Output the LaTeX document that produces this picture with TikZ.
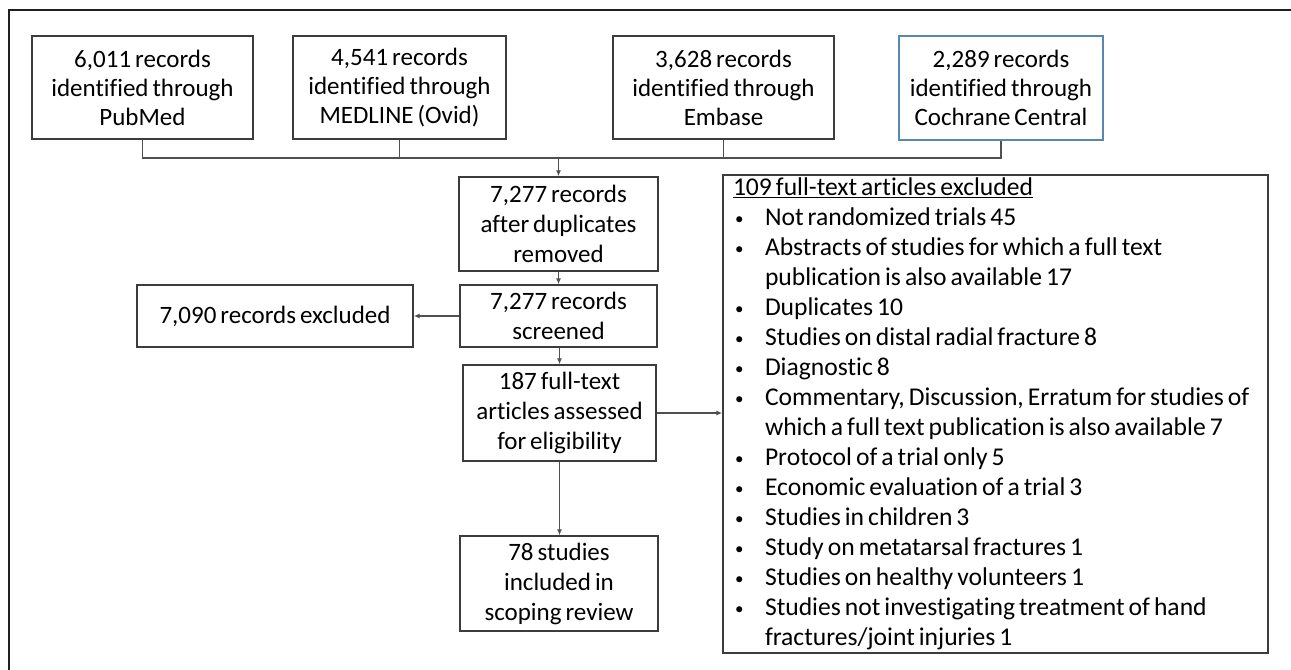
\documentclass[tikz,border=0pt]{standalone}
\usepackage{fontspec}
\setmainfont{Carlito}[Ligatures=NoCommon, WordSpace={0.7,0.5,0.3}]
\usetikzlibrary{arrows.meta}
\definecolor{boxgray}{RGB}{60,60,60}
\definecolor{linegray}{RGB}{80,80,80}
\definecolor{cochblue}{RGB}{90,135,175}
\definecolor{framec}{RGB}{35,31,32}
\newcommand{\bfnt}[1]{\fontsize{25bp}{#1}\selectfont}
\newcommand{\bul}{\makebox[32bp][l]{\hspace{2bp}\raisebox{1.5bp}{\fontsize{17bp}{17bp}\selectfont•}}}
\begin{document}
\begin{tikzpicture}[x=1bp,y=-1bp,
  box/.style={draw=boxgray, line width=1.4bp, align=center, inner sep=0pt,
    font=\bfnt{29bp}},
  mbox/.style={box, font=\bfnt{30bp}},
  conn/.style={draw=linegray, line width=1.2bp},
  arr/.style={conn, -{Latex[length=6bp,width=5bp]}}]
\useasboundingbox (0,0) rectangle (1291,670);
\fill[white] (0,0) rectangle (1291,670);
\draw[framec, line width=2.6bp] (9,672) -- (9,10) -- (1293,10);
% top row
\node[box, minimum width=221bp, minimum height=103bp] (pub) at (142.5,87.5) {6,011 records\\identified through\\PubMed};
\node[box, minimum width=213bp, minimum height=103bp] (med) at (399.5,87.5) {4,541 records\\identified through\\MEDLINE (Ovid)};
\node[box, minimum width=221bp, minimum height=103bp] (emb) at (723.5,87.5) {3,628 records\\identified through\\Embase};
\node[box, draw=cochblue, minimum width=204bp, minimum height=104bp] (coc) at (1001,88) {2,289 records\\identified through\\Cochrane Central};
% middle column
\node[mbox, minimum width=199bp, minimum height=94bp] (dup) at (558.5,224) {7,277 records\\after duplicates\\removed};
\node[mbox, minimum width=197bp, minimum height=62bp] (scr) at (558.5,316) {7,277 records\\screened};
\node[box, minimum width=276bp, minimum height=62bp] (exc) at (275,316) {7,090 records excluded};
\node[mbox, minimum width=193bp, minimum height=96bp] (ft) at (559.5,413) {187 full-text\\articles assessed\\for eligibility};
\node[mbox, minimum width=198bp, minimum height=95bp] (inc) at (559,583.5) {78 studies\\included in\\scoping review};
% exclusion list
\node[box, font=\fontsize{25.6bp}{30bp}\selectfont, align=left, inner xsep=10bp, minimum width=545bp, minimum height=478bp] (lst) at (995.5,414) {%
\makebox[525bp][l]{\underline{109 full-text articles excluded}}\\
\bul Not randomized trials 45\\
\bul Abstracts of studies for which a full text\\
\hspace*{32bp}publication is also available 17\\
\bul Duplicates 10\\
\bul Studies on distal radial fracture 8\\
\bul Diagnostic 8\\
\bul Commentary, Discussion, Erratum for studies of\\
\hspace*{32bp}which a full text publication is also available 7\\
\bul Protocol of a trial only 5\\
\bul Economic evaluation of a trial 3\\
\bul Studies in children 3\\
\bul Study on metatarsal fractures 1\\
\bul Studies on healthy volunteers 1\\
\bul Studies not investigating treatment of hand\\
\hspace*{32bp}fractures/joint injuries 1};
% connectors
\coordinate (hl) at (558.5,158);
\draw[conn] (pub.south) |- (coc.south |- hl) -- (coc.south);
\draw[conn] (med.south) -- (med.south |- hl);
\draw[conn] (emb.south) -- (emb.south |- hl);
\draw[arr] (hl) -- (hl |- dup.north);
\draw[arr] (dup.south) -- (dup.south |- scr.north);
\draw[arr] (scr.west) -- (exc.east);
\draw[arr] (ft.south |- scr.south) -- (ft.north);
\draw[arr] (ft.east) -- (ft.east -| lst.west);
\draw[arr] (ft.south) -- (ft.south |- inc.north);
\end{tikzpicture}
\end{document}
